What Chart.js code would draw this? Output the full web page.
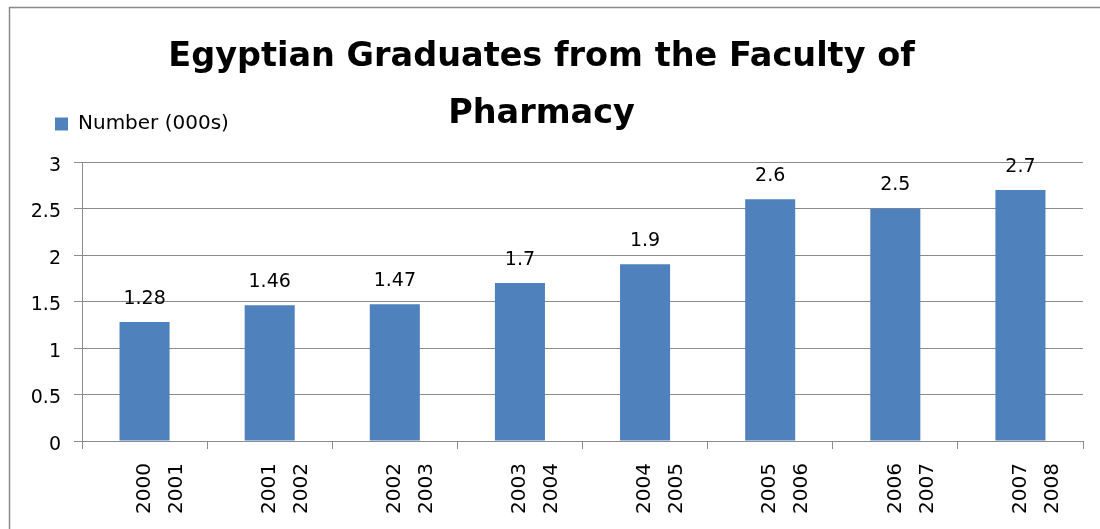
<!DOCTYPE html>
<html>
<head>
<meta charset="utf-8">
<title>Egyptian Graduates from the Faculty of Pharmacy</title>
<script src="https://cdn.jsdelivr.net/npm/chart.js@4.4.0/dist/chart.umd.min.js"></script>
<style>
  html, body { margin: 0; padding: 0; background: #fff; }
  canvas { display: block; }
</style>
</head>
<body>
<canvas id="chart" width="1100" height="529"></canvas>
<script>
// academic years, shown as two stacked lines under each bar
const categories = [
  ['2000', '2001'], ['2001', '2002'], ['2002', '2003'], ['2003', '2004'],
  ['2004', '2005'], ['2005', '2006'], ['2006', '2007'], ['2007', '2008']
];
// graduates, thousands
const graduates = [1.28, 1.46, 1.47, 1.7, 1.9, 2.6, 2.5, 2.7];
const yTicks = [0, 0.5, 1, 1.5, 2, 2.5, 3];

const BLUE = '#4F81BD';
const GRID = '#8c8c8c';
const FONT = '"DejaVu Sans", Verdana, sans-serif';

// grey frame of the chart box (top-left corner only is inside the picture)
const framePlugin = {
  id: 'frame',
  beforeDraw(chart) {
    const ctx = chart.ctx;
    ctx.save();
    ctx.fillStyle = '#fff';
    ctx.fillRect(0, 0, chart.width, chart.height);
    ctx.strokeStyle = '#8a8a8a';
    ctx.lineWidth = 1.5;
    ctx.strokeRect(9.5, 7.5, chart.width + 20, chart.height + 20);
    ctx.restore();
  }
};

// legend sits at the left, beside the second title line
const legendPlacer = {
  id: 'legendPlacer',
  afterLayout(chart) {
    const lg = chart.legend;
    const w = lg.width, h = lg.height;
    lg.left = 45;
    lg.top = 104;
    lg.right = lg.left + w;
    lg.bottom = lg.top + h;
  }
};

// value labels above the bars
const valueLabels = {
  id: 'valueLabels',
  afterDatasetsDraw(chart) {
    const ctx = chart.ctx;
    const meta = chart.getDatasetMeta(0);
    ctx.save();
    ctx.font = '19px ' + FONT;
    ctx.fillStyle = '#000';
    ctx.textAlign = 'center';
    ctx.textBaseline = 'middle';
    meta.data.forEach((bar, i) => {
      ctx.fillText(String(graduates[i]), bar.x, bar.y - 23);
    });
    ctx.restore();
  }
};

new Chart(document.getElementById('chart'), {
  type: 'bar',
  data: {
    labels: categories,
    datasets: [{
      label: 'Number (000s)',
      data: graduates,
      backgroundColor: BLUE,
      borderWidth: 0,
      barPercentage: 0.4,
      categoryPercentage: 1
    }]
  },
  options: {
    responsive: false,
    animation: false,
    devicePixelRatio: 1,
    layout: { padding: { left: 0, right: 17, top: 0, bottom: 0 } },
    plugins: {
      title: {
        display: true,
        text: ['Egyptian Graduates from the Faculty of', 'Pharmacy'],
        color: '#000',
        font: { family: FONT, size: 33.5, weight: 'bold', lineHeight: '57px' },
        padding: { top: 28.5, bottom: -20.5 }
      },
      legend: {
        display: true,
        position: 'top',
        align: 'start',
        labels: {
          boxWidth: 13,
          boxHeight: 13,
          padding: 10,
          color: '#000',
          font: { family: FONT, size: 20 }
        }
      },
      tooltip: { enabled: false }
    },
    scales: {
      x: {
        afterFit(scale) { scale.height = 88; },
        grid: {
          display: true,
          offset: true,
          drawOnChartArea: false,
          drawTicks: true,
          tickLength: 8,
          color: GRID
        },
        border: { display: true, color: GRID },
        ticks: {
          minRotation: 90,
          maxRotation: 90,
          autoSkip: false,
          padding: 14,
          color: '#000',
          font: { family: FONT, size: 20, lineHeight: '32px' }
        }
      },
      y: {
        min: 0,
        max: 3,
        afterFit(scale) { scale.width = 82; },
        afterBuildTicks(scale) { scale.ticks = yTicks.map(v => ({ value: v })); },
        grid: { color: GRID, tickLength: 8 },
        border: { display: true, color: GRID },
        ticks: {
          padding: 13,
          color: '#000',
          // empty first line nudges the number a few px below its gridline
          font: { family: FONT, size: 19, lineHeight: '8px' },
          callback: v => ['', String(v)]
        }
      }
    }
  },
  plugins: [framePlugin, legendPlacer, valueLabels]
});
</script>
</body>
</html>
